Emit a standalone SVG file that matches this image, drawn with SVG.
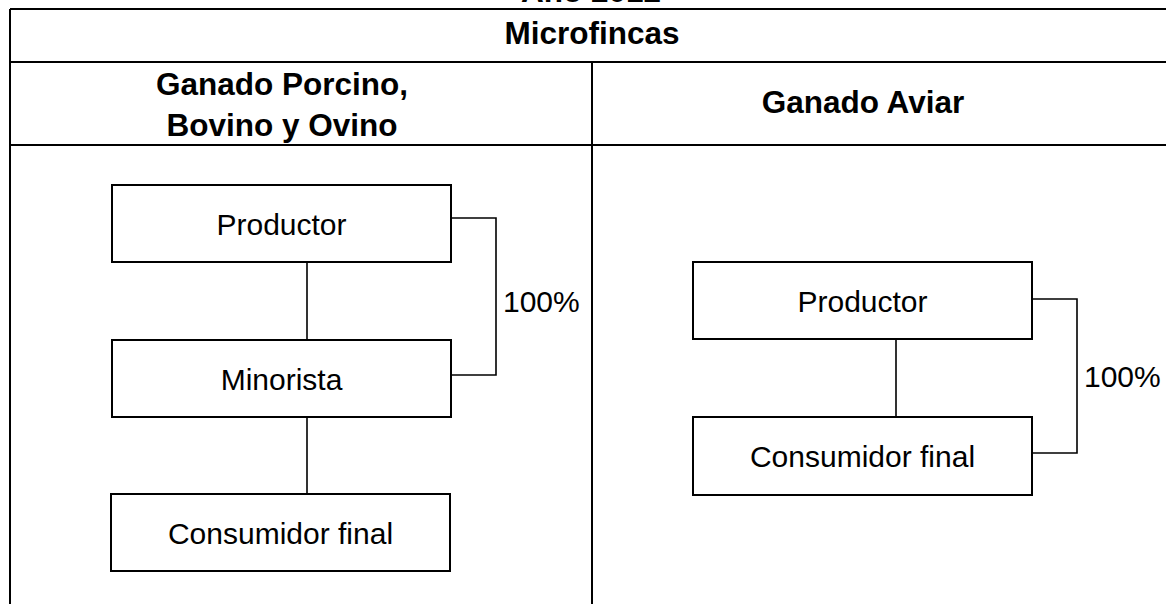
<svg xmlns="http://www.w3.org/2000/svg" width="1166" height="604" viewBox="0 0 1166 604">
<style>
.grid{stroke:#000;stroke-width:2;fill:none}
.box{fill:#fff;stroke:#000;stroke-width:2}
.con{stroke:#000;stroke-width:1.6;fill:none}
.h{font-family:"Liberation Sans",Arial,sans-serif;font-weight:bold;font-size:31.5px;fill:#000;text-anchor:middle}
.t{font-family:"Liberation Sans",Arial,sans-serif;font-size:30px;fill:#000;text-anchor:middle}
.p{font-family:"Liberation Sans",Arial,sans-serif;font-size:30px;fill:#000}
</style>
<rect width="1166" height="604" fill="#fff"/>
<text class="h" x="591" y="1.5">Año 2012</text>
<g id="table">
<path class="grid" d="M10,9 H1166 M10,62 H1166 M10,145 H1166 M10,9 V604 M592,62 V604"/>
<text class="h" x="592" y="44">Microfincas</text>
<text class="h" x="282" y="95">Ganado Porcino,</text>
<text class="h" x="282" y="136">Bovino y Ovino</text>
<text class="h" x="863" y="113">Ganado Aviar</text>
</g>
<g id="connectors">
<path class="con" d="M307,262 V340 M307,417 V494 M896,339 V417"/>
<path class="con" d="M451,218 H496 V375 H451"/>
<path class="con" d="M1032,299 H1077 V453 H1032"/>
<text class="p" x="503" y="312">100%</text>
<text class="p" x="1084" y="387">100%</text>
</g>
<g id="productor-left">
<rect class="box" x="112" y="185" width="339" height="77"/>
<text class="t" x="281.5" y="235">Productor</text>
</g>
<g id="minorista-left">
<rect class="box" x="112" y="340" width="339" height="77"/>
<text class="t" x="281.5" y="390">Minorista</text>
</g>
<g id="consumidor-left">
<rect class="box" x="111" y="494" width="339" height="77"/>
<text class="t" x="280.5" y="544">Consumidor final</text>
</g>
<g id="productor-right">
<rect class="box" x="693" y="262" width="339" height="77"/>
<text class="t" x="862.5" y="312">Productor</text>
</g>
<g id="consumidor-right">
<rect class="box" x="693" y="417" width="339" height="78"/>
<text class="t" x="862.5" y="467">Consumidor final</text>
</g>
</svg>
